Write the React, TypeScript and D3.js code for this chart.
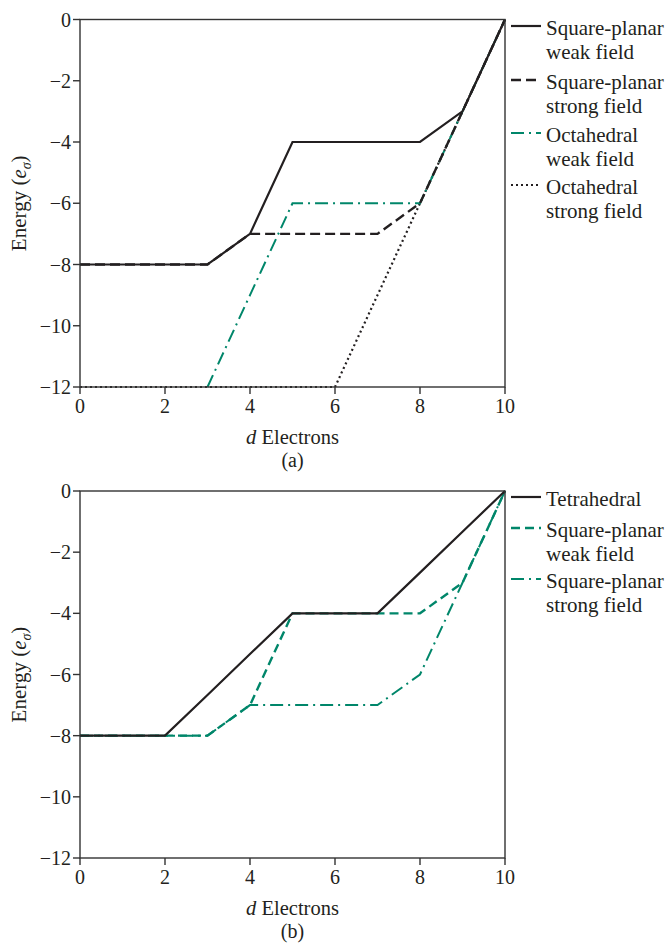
import React from 'react';
import * as d3 from 'd3';

// ---- data ----
const electrons = [0, 1, 2, 3, 4, 5, 6, 7, 8, 9, 10];
const sqPlanarWeak = [-8, -8, -8, -8, -7, -4, -4, -4, -4, -3, 0];
const sqPlanarStrong = [-8, -8, -8, -8, -7, -7, -7, -7, -6, -3, 0];
const octWeakElectrons = [3, 4, 5, 6, 7, 8, 9, 10];
const octWeak = [-12, -9, -6, -6, -6, -6, -3, 0];
const octStrong = [-12, -12, -12, -12, -12, -12, -12, -9, -6, -3, 0];
const tetrahedral = [-8, -8, -8, -6.67, -5.33, -4, -4, -4, -2.67, -1.33, 0];

const xTicks = [0, 2, 4, 6, 8, 10];
const yTicks = [0, -2, -4, -6, -8, -10, -12];

const BLACK = '#231f20';
const GREEN = '#00866a';
const FONT = '"Liberation Serif", "Times New Roman", serif';

type Style = { color: string; dash?: string; width: number };
const solidBlack: Style = { color: BLACK, width: 2.2 };
const dashedBlack: Style = { color: BLACK, dash: '10 5', width: 2.4 };
const dashDotGreen: Style = { color: GREEN, dash: '13 5 2 5', width: 2 };
const dottedBlack: Style = { color: BLACK, dash: '2 3', width: 2.2 };
const dashedGreen: Style = { color: GREEN, dash: '9 5', width: 2.4 };

type Series = { xs: number[]; ys: number[]; style: Style; label: string[] };

const seriesA: Series[] = [
  { xs: electrons, ys: sqPlanarWeak, style: solidBlack, label: ['Square-planar', 'weak field'] },
  { xs: electrons, ys: sqPlanarStrong, style: dashedBlack, label: ['Square-planar', 'strong field'] },
  { xs: octWeakElectrons, ys: octWeak, style: dashDotGreen, label: ['Octahedral', 'weak field'] },
  { xs: electrons, ys: octStrong, style: dottedBlack, label: ['Octahedral', 'strong field'] },
];
const drawOrderA = [3, 2, 1, 0];

const seriesB: Series[] = [
  { xs: electrons, ys: tetrahedral, style: solidBlack, label: ['Tetrahedral'] },
  { xs: electrons, ys: sqPlanarWeak, style: dashedGreen, label: ['Square-planar', 'weak field'] },
  { xs: electrons, ys: sqPlanarStrong, style: dashDotGreen, label: ['Square-planar', 'strong field'] },
];
const drawOrderB = [2, 1, 0];

const LEFT = 80;
const RIGHT = 505;

function Panel({ top, bottom, series, order, tag, legendYs }: {
  top: number; bottom: number; series: Series[]; order: number[]; tag: string; legendYs: number[];
}) {
  const x = d3.scaleLinear().domain([0, 10]).range([LEFT, RIGHT]);
  const y = d3.scaleLinear().domain([-12, 0]).range([bottom, top]);
  const mid = (top + bottom) / 2;
  return (
    <g fontFamily={FONT} fill={BLACK}>
      {order.map((i) => {
        const s = series[i];
        const pts = s.xs.map((v, k) => [v, s.ys[k]] as [number, number]);
        const line = d3.line<[number, number]>().x((d) => x(d[0])).y((d) => y(d[1]));
        return (
          <path key={i} d={line(pts) || ''} fill="none" stroke={s.style.color}
            strokeWidth={s.style.width} strokeDasharray={s.style.dash} strokeLinejoin="miter" />
        );
      })}
      {/* frame */}
      <rect x={LEFT} y={top} width={RIGHT - LEFT} height={bottom - top} fill="none" stroke="#333" strokeWidth={1.4} />
      {/* y ticks */}
      {yTicks.map((t) => (
        <g key={t}>
          <line x1={LEFT - 7} x2={LEFT} y1={y(t)} y2={y(t)} stroke="#333" strokeWidth={1.4} />
          <text x={LEFT - 9} y={y(t)} dy="0.35em" textAnchor="end" fontSize={20}>
            {t < 0 ? '\u2212' + Math.abs(t) : String(t)}
          </text>
        </g>
      ))}
      {/* x ticks */}
      {xTicks.map((t) => (
        <g key={t}>
          <line x1={x(t)} x2={x(t)} y1={bottom} y2={bottom + 7} stroke="#333" strokeWidth={1.4} />
          <text x={x(t)} y={bottom + 26} textAnchor="middle" fontSize={20}>{t}</text>
        </g>
      ))}
      {/* axis labels */}
      <text x={(LEFT + RIGHT) / 2} y={bottom + 57} textAnchor="middle" fontSize={20.5}>
        <tspan fontStyle="italic">d</tspan> Electrons
      </text>
      <text x={(LEFT + RIGHT) / 2} y={bottom + 80} textAnchor="middle" fontSize={20}>{tag}</text>
      <text transform={`translate(26,${mid}) rotate(-90)`} textAnchor="middle" fontSize={21}>
        Energy (<tspan fontStyle="italic">e</tspan>
        <tspan fontStyle="italic" fontSize={14} dy={5}>σ</tspan>
        <tspan dy={-5}>)</tspan>
      </text>
      {/* legend */}
      {series.map((s, i) => (
        <g key={i}>
          <line x1={511} x2={541} y1={legendYs[i]} y2={legendYs[i]} stroke={s.style.color}
            strokeWidth={s.style.width} strokeDasharray={s.style.dash} />
          {s.label.map((l, j) => (
            <text key={j} x={546} y={legendYs[i] + 9 + j * 24} fontSize={21}>{l}</text>
          ))}
        </g>
      ))}
    </g>
  );
}

export default function App() {
  return (
    <svg width={668} height={944} style={{ position: 'absolute', left: 0, top: 0, background: '#fff' }}>
      <rect width={668} height={944} fill="#fff" />
      <Panel top={19.5} bottom={387} series={seriesA} order={drawOrderA} tag="(a)" legendYs={[26, 80, 133, 185]} />
      <Panel top={491} bottom={858} series={seriesB} order={drawOrderB} tag="(b)" legendYs={[497, 528, 579]} />
    </svg>
  );
}
